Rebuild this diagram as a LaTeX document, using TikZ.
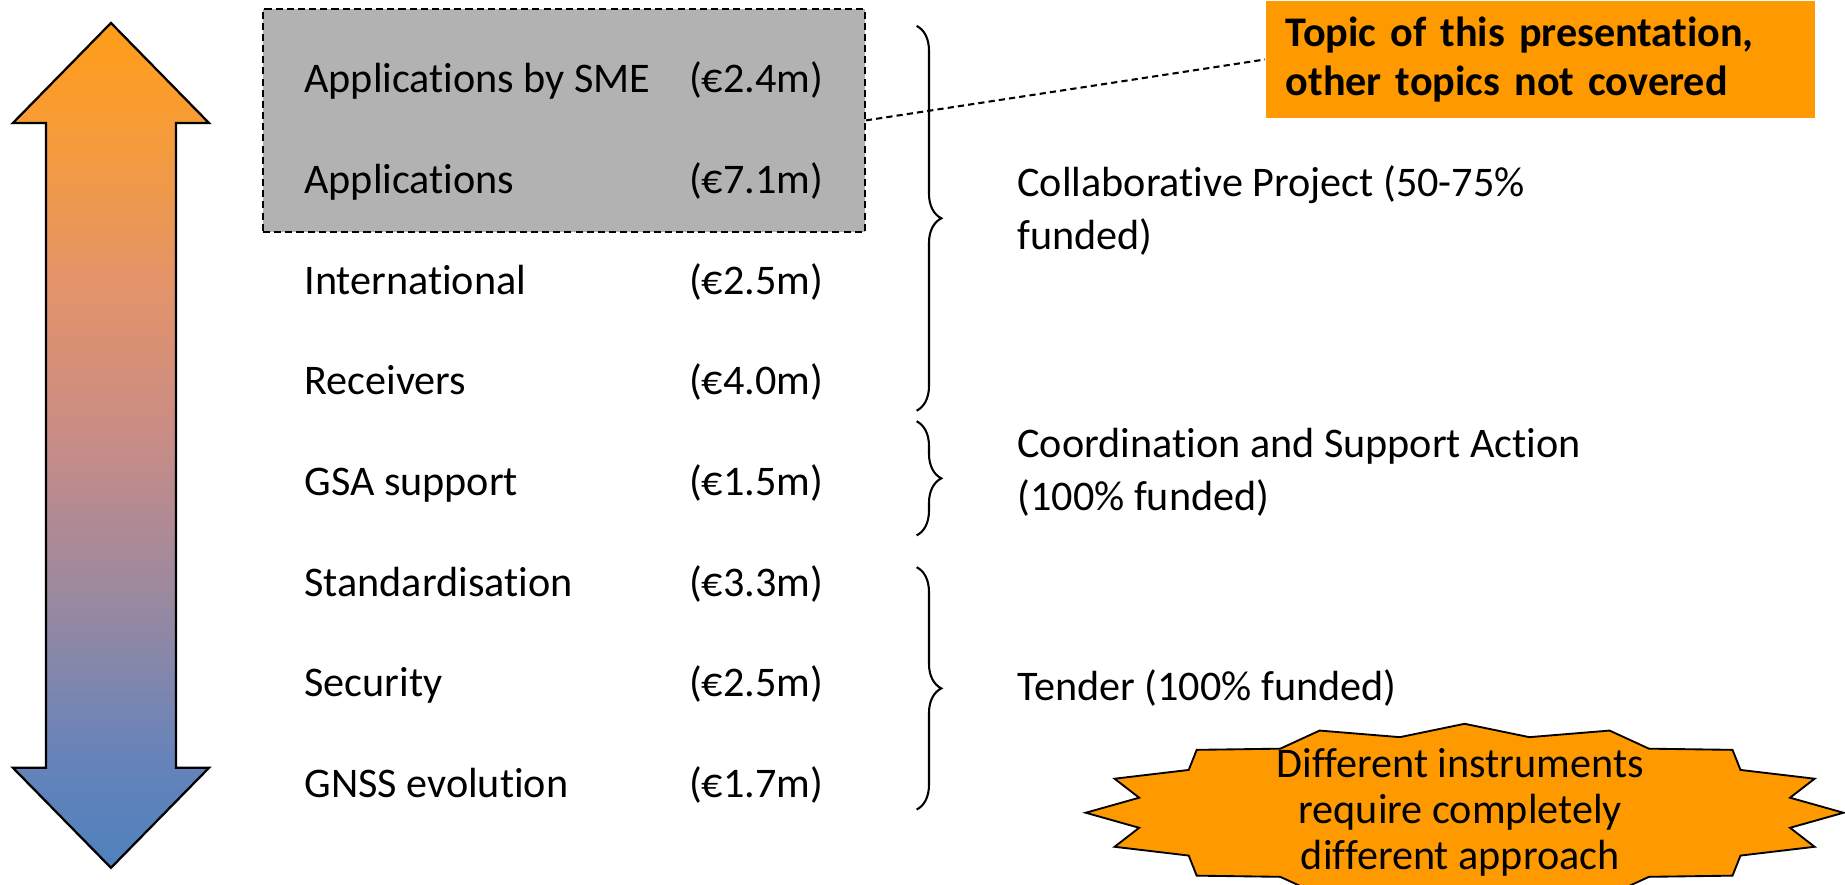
\documentclass[tikz,border=0pt]{standalone}
\usepackage{fontspec}
\setmainfont{Carlito}[Ligatures={NoRequired,NoCommon,NoContextual},RawFeature={-liga;-rlig;-clig;-dlig;-calt}]
\usepackage{xcolor}
\usepackage{tikz}
\usetikzlibrary{decorations.pathreplacing}
\definecolor{hiorange}{HTML}{FF9900}
\definecolor{selgrey}{HTML}{B2B2B2}
\pgfdeclareverticalshading{updownfade}{100bp}{
  rgb(0bp)=(0.310,0.506,0.741); rgb(25bp)=(0.310,0.506,0.741);
  rgb(31.5bp)=(0.400,0.514,0.729); rgb(41bp)=(0.604,0.537,0.624);
  rgb(50.5bp)=(0.788,0.549,0.525); rgb(60bp)=(0.894,0.580,0.408);
  rgb(69.25bp)=(0.969,0.612,0.208); rgb(75bp)=(1.0,0.616,0.090);
  rgb(100bp)=(1.0,0.616,0.090)}
\tikzset{
  updown/.style={draw=black, line width=0.55pt, line join=miter, shading=updownfade},
  selbox/.style={draw=black, fill=selgrey, dashed, dash pattern=on 1.7pt off 1pt,
    line width=0.5pt, inner sep=0pt},
  item/.style={font=\fontsize{10.2}{12.8}\selectfont, inner sep=0pt, anchor=base west},
  kind/.style={font=\fontsize{10.2}{12.8}\selectfont, inner sep=0pt, align=left, anchor=west},
  topic/.style={fill=hiorange, font=\bfseries\fontsize{10.2}{11.7}\selectfont,
    text width=4.33cm, align=left, inner xsep=0.17cm, inner ysep=0pt,
    minimum height=0.997cm, anchor=north west},
  burst/.style={draw=black, fill=hiorange, line width=0.45pt, line join=miter},
  bursttext/.style={font=\fontsize{10.2}{11.1}\selectfont, align=center, inner sep=0pt},
  brace/.style={draw=black, line width=0.5pt, decorate,
    decoration={brace, amplitude=0.21cm}},
  link/.style={draw=black, dashed, dash pattern=on 1.5pt off 1pt, line width=0.5pt}
}

\begin{document}
\begin{tikzpicture}
  \useasboundingbox (0,0) rectangle (15.68,-7.52);
  \clip (0,0) rectangle (15.68,-7.52);

  % double arrow
  \shadedraw[updown] (0.943,-0.195) -- (1.776,-1.045) -- (1.495,-1.045)
    -- (1.495,-6.525) -- (1.776,-6.525) -- (0.943,-7.375) -- (0.11,-6.525)
    -- (0.39,-6.525) -- (0.39,-1.045) -- (0.11,-1.045) -- cycle;

  \node[selbox, minimum width=5.115cm, minimum height=1.894cm] (sel) at (4.7925,-1.023) {};

  \foreach \i/\name/\amt in {1/Applications by SME/2.4, 2/Applications/7.1,
      3/International/2.5, 4/Receivers/4.0, 5/GSA support/1.5,
      6/Standardisation/3.3, 7/Security/2.5, 8/GNSS evolution/1.7}{
    \node[item] (r\i) at (2.58,{-0.79-0.855*(\i-1)}) {\name};
    \node[item] (a\i) at (5.85,{-0.79-0.855*(\i-1)}) {(€\amt m)};
  }

  % braces
  \coordinate (b1t) at (7.79,-0.22);
  \coordinate (b1b) at (7.79,-3.49);
  \coordinate (b2t) at (7.79,-3.58);
  \coordinate (b2b) at (7.79,-4.55);
  \coordinate (b3t) at (7.79,-4.82);
  \coordinate (b3b) at (7.79,-6.88);
  \draw[brace] (b1t) -- (b1b);
  \draw[brace] (b2t) -- (b2b);
  \draw[brace] (b3t) -- (b3b);

  \node[kind] (collab) at (8.64,-1.785) {Collaborative Project (50-75\%\\funded)};
  \node[kind] (csa) at (8.64,-4.01) {Coordination and Support Action\\(100\% funded)};
  \node[item] (tender) at (8.64,-5.95) {Tender (100\% funded)};

  \node[topic] (topic) at (10.75,0) {Topic of this presentation,\\other topics not covered};
  \draw[link] (sel.east) -- (topic.west);

  % star
  \draw[burst, shift={(12.447,-6.907)}] (0:3.22 and 0.756)
    \foreach \k in {0,...,15}{
      -- ({\k*22.5+11.25}:2.82 and 0.655) -- ({(\k+1)*22.5}:3.22 and 0.756)
    } -- cycle;
  \node[bursttext] (note) at (12.41,-6.905) {Different instruments\\require completely\\different approach};
\end{tikzpicture}
\end{document}
